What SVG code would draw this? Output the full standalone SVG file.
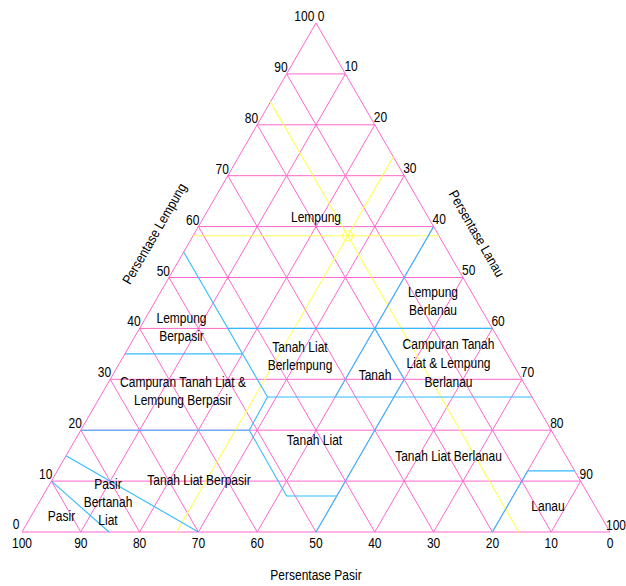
<svg xmlns="http://www.w3.org/2000/svg" width="626" height="586" viewBox="0 0 626 586">
<style>
.g{stroke:#ff66cc;stroke-width:1;fill:none}
.b{stroke:#33bbff;stroke-width:1.1;fill:none}
.y{stroke:#ffff55;stroke-width:1.1;fill:none}
text{font-family:"Liberation Sans",Arial,sans-serif;font-size:12px;fill:#000}
.m{text-anchor:middle}
.e{text-anchor:end}
</style>
<rect width="626" height="586" fill="#fff"/>
<g id="grid" class="g">
<polygon points="316,23 22,532 610,532"/>
<path d="M51.4,481.1H580.6M80.8,430.2H551.2M110.2,379.3H521.8M139.6,328.4H492.4M169,277.5H463M198.4,226.6H433.6M227.8,175.7H404.2M257.2,124.8H374.8M286.6,73.9H345.4"/>
<path d="M51.4,481.1L80.8,532M80.8,430.2L139.6,532M110.2,379.3L198.4,532M139.6,328.4L257.2,532M169,277.5L316,532M198.4,226.6L374.8,532M227.8,175.7L433.6,532M257.2,124.8L492.4,532M286.6,73.9L551.2,532"/>
<path d="M345.4,73.9L80.8,532M374.8,124.8L139.6,532M404.2,175.7L198.4,532M433.6,226.6L257.2,532M463,277.5L316,532M492.4,328.4L374.8,532M521.8,379.3L433.6,532M551.2,430.2L492.4,532M580.6,481.1L551.2,532"/>
</g>
<g id="yellow" class="y">
<path d="M193.1,235.8H438.9M270.4,101.9L518.9,532M393.3,156.9L176.6,532"/>
<circle cx="347.7" cy="235.8" r="5"/>
</g>
<g id="boundaries" class="b">
<path d="M183.7,252L267.5,397"/>
<path d="M124.9,353.9H242.5"/>
<path d="M227.8,328.4H492.4"/>
<path d="M433.6,226.6L335.1,397"/>
<path d="M374.8,328.4L404.2,379.3L316,532"/>
<path d="M267.5,397H532.1"/>
<path d="M80.8,430.2H249.3L267.5,397"/>
<path d="M249.3,430.2L286.6,496H336.6"/>
<path d="M51.4,481.1L109,532"/>
<path d="M66.1,455.7L198.4,532"/>
<path d="M574.7,470.9H527.7L492.4,532"/>
</g>
<g id="ticks-lempung" class="e">
<text transform="matrix(1 0 0 1.15 19.5 529)">0</text>
<text transform="matrix(1 0 0 1.15 52.4 479)">10</text>
<text transform="matrix(1 0 0 1.15 81.8 428.2)">20</text>
<text transform="matrix(1 0 0 1.15 111.2 377.3)">30</text>
<text transform="matrix(1 0 0 1.15 140.6 326.4)">40</text>
<text transform="matrix(1 0 0 1.15 170 275.5)">50</text>
<text transform="matrix(1 0 0 1.15 199.4 224.6)">60</text>
<text transform="matrix(1 0 0 1.15 228.8 173.7)">70</text>
<text transform="matrix(1 0 0 1.15 258.2 122.8)">80</text>
<text transform="matrix(1 0 0 1.15 287.6 71.9)">90</text>
<text transform="matrix(1 0 0 1.15 314.3 20.5)">100</text>
</g>
<g id="ticks-lanau">
<text transform="matrix(1 0 0 1.15 317.7 20.5)">0</text>
<text transform="matrix(1 0 0 1.15 344.4 71.4)">10</text>
<text transform="matrix(1 0 0 1.15 373.8 122.3)">20</text>
<text transform="matrix(1 0 0 1.15 403.2 173.2)">30</text>
<text transform="matrix(1 0 0 1.15 432.6 224.1)">40</text>
<text transform="matrix(1 0 0 1.15 462 275)">50</text>
<text transform="matrix(1 0 0 1.15 491.4 325.9)">60</text>
<text transform="matrix(1 0 0 1.15 520.8 376.8)">70</text>
<text transform="matrix(1 0 0 1.15 550.2 427.7)">80</text>
<text transform="matrix(1 0 0 1.15 579.6 478.6)">90</text>
<text transform="matrix(1 0 0 1.15 606 529.5)">100</text>
</g>
<g id="ticks-pasir" class="m">
<text transform="matrix(1 0 0 1.15 22 548)">100</text>
<text transform="matrix(1 0 0 1.15 80.8 548)">90</text>
<text transform="matrix(1 0 0 1.15 139.6 548)">80</text>
<text transform="matrix(1 0 0 1.15 198.4 548)">70</text>
<text transform="matrix(1 0 0 1.15 257.2 548)">60</text>
<text transform="matrix(1 0 0 1.15 316 548)">50</text>
<text transform="matrix(1 0 0 1.15 374.8 548)">40</text>
<text transform="matrix(1 0 0 1.15 433.6 548)">30</text>
<text transform="matrix(1 0 0 1.15 492.4 548)">20</text>
<text transform="matrix(1 0 0 1.15 551.2 548)">10</text>
<text transform="matrix(1 0 0 1.15 610 548)">0</text>
</g>
<g id="axis-titles" class="m">
<text transform="matrix(1 0 0 1.15 316 580)">Persentase Pasir</text>
<text transform="translate(158.5,236) rotate(-60) scale(1,1.15)">Persentase Lempung</text>
<text transform="translate(472.5,236) rotate(60) scale(1,1.15)">Persentase Lanau</text>
</g>
<g id="regions" class="m">
<g id="lempung"><text transform="matrix(1 0 0 1.15 316 221.5)">Lempung</text></g>
<g id="lempung-berpasir"><text transform="matrix(1 0 0 1.15 181.5 322.5)">Lempung</text><text transform="matrix(1 0 0 1.15 181.5 341)">Berpasir</text></g>
<g id="lempung-berlanau"><text transform="matrix(1 0 0 1.15 433 296.5)">Lempung</text><text transform="matrix(1 0 0 1.15 433 315)">Berlanau</text></g>
<g id="tanah-liat-berlempung"><text transform="matrix(1 0 0 1.15 300 352)">Tanah Liat</text><text transform="matrix(1 0 0 1.15 300 370)">Berlempung</text></g>
<g id="campuran-berlanau"><text transform="matrix(1 0 0 1.15 448.5 349)">Campuran Tanah</text><text transform="matrix(1 0 0 1.15 448.5 368)">Liat &amp; Lempung</text><text transform="matrix(1 0 0 1.15 448.5 386.5)">Berlanau</text></g>
<g id="tanah"><text transform="matrix(1 0 0 1.15 375 380)">Tanah</text></g>
<g id="campuran-berpasir"><text transform="matrix(1 0 0 1.15 183 387)">Campuran Tanah Liat &amp;</text><text transform="matrix(1 0 0 1.15 183 405)">Lempung Berpasir</text></g>
<g id="tanah-liat"><text transform="matrix(1 0 0 1.15 314.5 445)">Tanah Liat</text></g>
<g id="tanah-liat-berlanau"><text transform="matrix(1 0 0 1.15 448.5 461)">Tanah Liat Berlanau</text></g>
<g id="tanah-liat-berpasir"><text transform="matrix(1 0 0 1.15 199 485)">Tanah Liat Berpasir</text></g>
<g id="pasir-bertanah-liat"><text transform="matrix(1 0 0 1.15 108 488.5)">Pasir</text><text transform="matrix(1 0 0 1.15 108 506.5)">Bertanah</text><text transform="matrix(1 0 0 1.15 108 524.5)">Liat</text></g>
<g id="pasir"><text transform="matrix(1 0 0 1.15 61.5 521)">Pasir</text></g>
<g id="lanau"><text transform="matrix(1 0 0 1.15 548 510.5)">Lanau</text></g>
</g>
</svg>
